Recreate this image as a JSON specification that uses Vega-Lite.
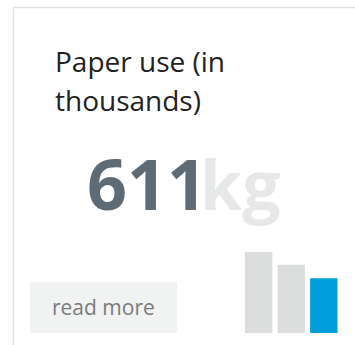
{
  "$schema": "https://vega.github.io/schema/vega-lite/v6.json",
  "width": 355,
  "height": 345,
  "autosize": {"type": "none"},
  "padding": 0,
  "background": "#ffffff",
  "config": {"view": {"stroke": null}},
  "data": {"values": [
    {"period": "P1", "value": 902},
    {"period": "P2", "value": 760},
    {"period": "P3", "value": 611}
  ]},
  "layer": [
    {
      "data": {"values": [{}]},
      "mark": {"type": "rect", "x": 13.5, "y": 7.5, "x2": 420, "y2": 420, "fill": "#ffffff", "stroke": "#e3e3e3", "strokeWidth": 1.5},
      "encoding": {}
    },
    {
      "data": {"values": [{}]},
      "mark": {"type": "text", "x": 55, "y": 71.5, "text": ["Paper use (in", "thousands)"], "lineHeight": 39, "align": "left", "baseline": "alphabetic", "font": "Open Sans", "fontSize": 28, "color": "#222222"},
      "encoding": {}
    },
    {
      "transform": [{"filter": "datum.period === 'P3'"}],
      "mark": {"type": "text", "x": 87, "y": 210, "align": "left", "baseline": "alphabetic", "font": "Open Sans", "fontWeight": "bold", "fontSize": 70, "color": "#5e6a74"},
      "encoding": {"text": {"field": "value", "type": "quantitative"}}
    },
    {
      "data": {"values": [{}]},
      "mark": {"type": "text", "x": 200, "y": 210, "text": "kg", "align": "left", "baseline": "alphabetic", "font": "Open Sans", "fontWeight": "bold", "fontSize": 68, "color": "#e7e8e8"},
      "encoding": {}
    },
    {
      "data": {"values": [{}]},
      "mark": {"type": "rect", "x": 30, "y": 282, "x2": 177, "y2": 333, "fill": "#f1f2f2"},
      "encoding": {}
    },
    {
      "data": {"values": [{}]},
      "mark": {"type": "text", "x": 52, "y": 315, "text": "read more", "align": "left", "baseline": "alphabetic", "font": "Open Sans", "fontSize": 21, "color": "#7b7b7b"},
      "encoding": {}
    },
    {
      "mark": {"type": "bar"},
      "encoding": {
        "x": {"field": "period", "type": "nominal", "axis": null, "scale": {"type": "band", "range": [245, 337.5], "paddingInner": 0.16, "paddingOuter": 0}},
        "y": {"field": "value", "type": "quantitative", "axis": null, "scale": {"domain": [0, 902], "range": [333, 252], "nice": false}},
        "color": {"field": "period", "type": "nominal", "legend": null, "scale": {"domain": ["P1", "P2", "P3"], "range": ["#dcdddd", "#dcdddd", "#009fdb"]}}
      }
    }
  ]
}
